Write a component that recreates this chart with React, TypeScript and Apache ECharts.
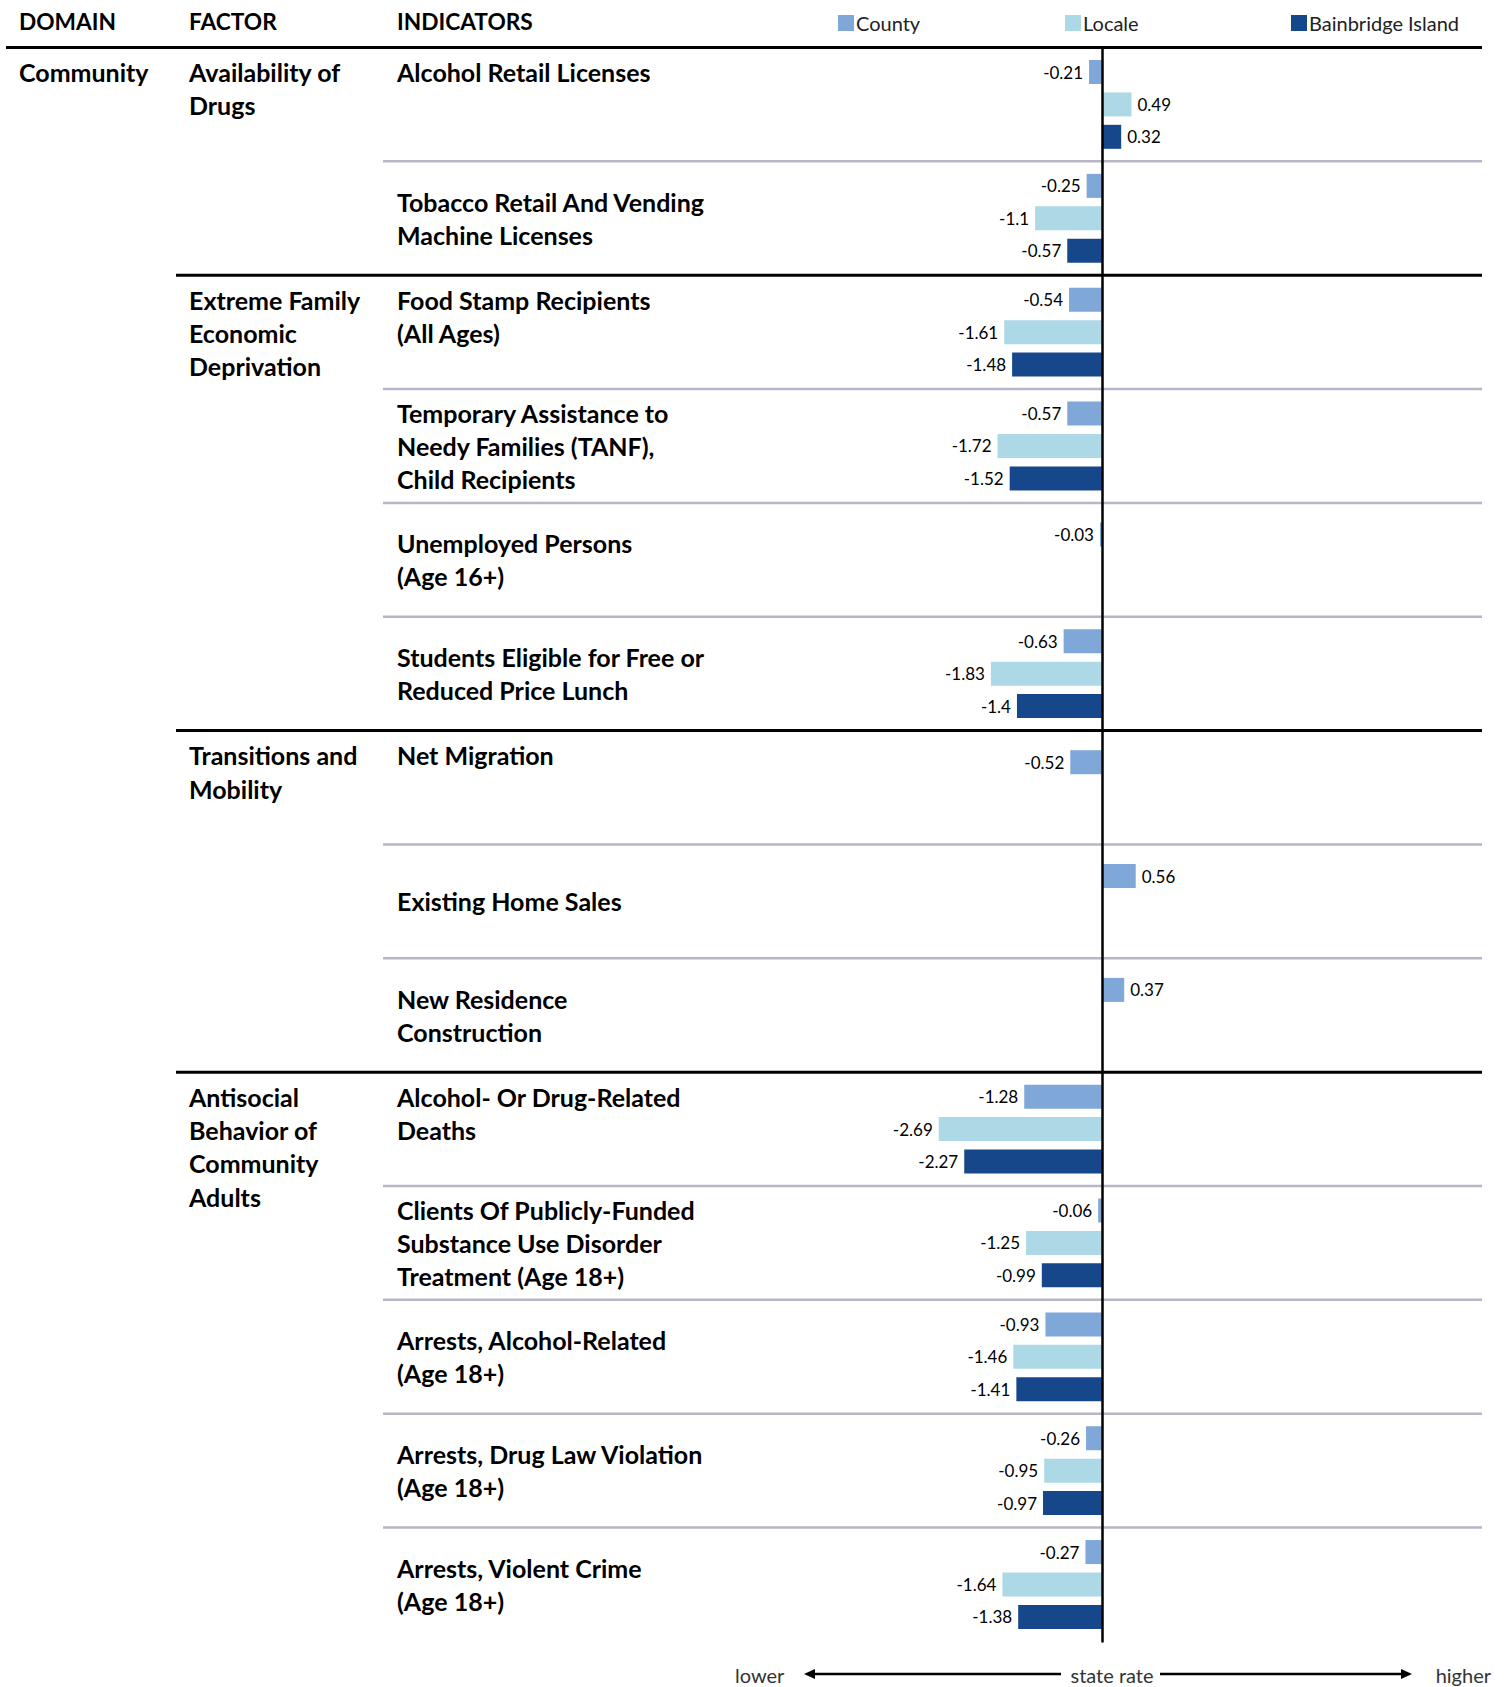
import React, { useEffect, useRef } from "react";
import * as echarts from "echarts";

const headers = ["DOMAIN", "FACTOR", "INDICATORS"];
const domainNames = ["Community"];
const domainStarts = [0];
const factorNames = [
  "Availability of\nDrugs",
  "Extreme Family\nEconomic\nDeprivation",
  "Transitions and\nMobility",
  "Antisocial\nBehavior of\nCommunity\nAdults",
];
const factorStarts = [0, 2, 6, 9];
const indicators = [
  "Alcohol Retail Licenses",
  "Tobacco Retail And Vending\nMachine Licenses",
  "Food Stamp Recipients\n(All Ages)",
  "Temporary Assistance to\nNeedy Families (TANF),\nChild Recipients",
  "Unemployed Persons\n(Age 16+)",
  "Students Eligible for Free or\nReduced Price Lunch",
  "Net Migration",
  "Existing Home Sales",
  "New Residence\nConstruction",
  "Alcohol- Or Drug-Related\nDeaths",
  "Clients Of Publicly-Funded\nSubstance Use Disorder\nTreatment (Age 18+)",
  "Arrests, Alcohol-Related\n(Age 18+)",
  "Arrests, Drug Law Violation\n(Age 18+)",
  "Arrests, Violent Crime\n(Age 18+)",
];
const seriesNames = ["County", "Locale", "Bainbridge Island"];
const countyValues = [-0.21, -0.25, -0.54, -0.57, -0.03, -0.63, -0.52, 0.56, 0.37, -1.28, -0.06, -0.93, -0.26, -0.27];
const localeValues = [0.49, -1.1, -1.61, -1.72, null, -1.83, null, null, null, -2.69, -1.25, -1.46, -0.95, -1.64];
const bainbridgeValues = [0.32, -0.57, -1.48, -1.52, null, -1.4, null, null, null, -2.27, -0.99, -1.41, -0.97, -1.38];
const seriesColors = ["#7fa7d8", "#add8e6", "#16478b"];
const arrowLabels = ["lower", "state rate", "higher"];

const W = 1506;
const H = 1687;
const GRID_TOP = 47.5;
const ROW_H = 113.85;
const ZERO_X = 1101.8;
const UNIT = 60.6;
const X_MIN = -5;
const X_MAX = 6;
const RULE_RIGHT = 1482;
const COL_X = [19, 189, 397];
const FIRST_LINE = 24.7;
const LH = 33.3;
const BOLD_FONT = "Lato";
const FS = 25;
const HEADER_FS = 22.7;

export default function App() {
  const ref = useRef<HTMLDivElement>(null);
  useEffect(() => {
    if (!ref.current) return;
    const chart = echarts.init(ref.current, undefined, { renderer: "svg" });
    const n = indicators.length;
    const gridLeft = ZERO_X + X_MIN * UNIT;
    const gridWidth = (X_MAX - X_MIN) * UNIT;
    const rowTop = (i: number) => GRID_TOP + i * ROW_H;

    const graphics: any[] = [];
    const boldText = (text: string, x: number, yCenter: number, fs: number = FS) => ({
      type: "text",
      x,
      y: yCenter,
      style: {
        text,
        fontFamily: BOLD_FONT,
        fontWeight: "bold",
        fontSize: fs,
        lineHeight: LH,
        fill: "#000",
        align: "left",
        verticalAlign: "middle",
      },
      z: 10,
    });
    const lines = (t: string) => t.split("\n").length;

    headers.forEach((h, i) => graphics.push(boldText(h, COL_X[i], 21.5, HEADER_FS)));
    domainNames.forEach((d, i) => {
      const y = rowTop(domainStarts[i]) + FIRST_LINE + ((lines(d) - 1) * LH) / 2;
      graphics.push(boldText(d, COL_X[0], y));
    });
    factorNames.forEach((f, i) => {
      const y = rowTop(factorStarts[i]) + FIRST_LINE + ((lines(f) - 1) * LH) / 2;
      graphics.push(boldText(f, COL_X[1], y));
    });
    indicators.forEach((t, i) => {
      const isTop = factorStarts.indexOf(i) >= 0;
      const y = isTop
        ? rowTop(i) + FIRST_LINE + ((lines(t) - 1) * LH) / 2
        : rowTop(i) + ROW_H / 2;
      graphics.push(boldText(t, COL_X[2], y));
    });

    // rules
    graphics.push({
      type: "line",
      shape: { x1: 6, y1: GRID_TOP, x2: RULE_RIGHT, y2: GRID_TOP },
      style: { stroke: "#000", lineWidth: 3 },
      z: 5,
    });
    for (let i = 1; i < n; i++) {
      const isFactor = factorStarts.indexOf(i) >= 0;
      graphics.push({
        type: "line",
        shape: { x1: isFactor ? 176 : 383, y1: rowTop(i), x2: RULE_RIGHT, y2: rowTop(i) },
        style: { stroke: isFactor ? "#000" : "#b8b5c6", lineWidth: isFactor ? 3 : 2.5 },
        z: 5,
      });
    }

    // bottom arrows
    const ay = 1674;
    const textStyle = (text: string, x: number, align: string) => ({
      type: "text",
      x,
      y: ay + 1,
      style: { text, fontFamily: "Lato", fontSize: 20, fill: "#333", align, verticalAlign: "middle" },
    });
    graphics.push(textStyle(arrowLabels[0], 735, "left"));
    graphics.push(textStyle(arrowLabels[1], 1112, "center"));
    graphics.push(textStyle(arrowLabels[2], 1491, "right"));
    graphics.push({ type: "line", shape: { x1: 812, y1: ay, x2: 1061, y2: ay }, style: { stroke: "#000", lineWidth: 2.5 } });
    graphics.push({ type: "polygon", shape: { points: [[804, ay], [815, ay - 5], [815, ay + 5]] }, style: { fill: "#000" } });
    graphics.push({ type: "line", shape: { x1: 1160, y1: ay, x2: 1404, y2: ay }, style: { stroke: "#000", lineWidth: 2.5 } });
    graphics.push({ type: "polygon", shape: { points: [[1412, ay], [1401, ay - 5], [1401, ay + 5]] }, style: { fill: "#000" } });

    const valueSets = [countyValues, localeValues, bainbridgeValues];
    const legendLefts = [838, 1065, 1291];
    // rows where only the county value exists are laid out slightly lower in the original
    const countyOnly = countyValues.map((_, i) => localeValues[i] == null && bainbridgeValues[i] == null);

    const labelCfg = {
      show: true,
      fontFamily: "Lato",
      fontSize: 17,
      color: "#000",
      distance: 6,
    };
    const toItem = (v: number | null) =>
      v == null ? null : { value: v, label: { position: v < 0 ? "left" : "right" } };

    const mainSeries = seriesNames.map((s, si) => ({
      name: s,
      type: "bar",
      yAxisIndex: 0,
      barWidth: 24,
      barGap: "35%",
      itemStyle: { color: seriesColors[si] },
      label: labelCfg,
      data: valueSets[si].map((v, i) => (si === 0 && countyOnly[i] ? null : toItem(v))),
    }));
    const countyOnlySeries = {
      name: seriesNames[0],
      type: "bar",
      yAxisIndex: 1,
      barWidth: 24,
      barGap: "111%",
      itemStyle: { color: seriesColors[0] },
      label: labelCfg,
      data: countyValues.map((v, i) => (countyOnly[i] ? toItem(v) : null)),
    };
    const placeholder = {
      name: "_spacer",
      type: "bar",
      yAxisIndex: 1,
      barWidth: 24,
      silent: true,
      data: countyValues.map(() => null),
    };

    chart.setOption({
      animation: false,
      legend: seriesNames.map((s, i) => ({
        data: [s],
        left: legendLefts[i],
        top: 13,
        icon: "rect",
        itemWidth: 16,
        itemHeight: 16,
        itemGap: 0,
        padding: 0,
        textStyle: { fontFamily: "Lato", fontSize: 20, color: "#222", padding: [0, 0, 0, -3] },
      })),
      grid: { left: gridLeft, width: gridWidth, top: GRID_TOP, height: n * ROW_H, containLabel: false },
      xAxis: {
        type: "value",
        min: X_MIN,
        max: X_MAX,
        axisLine: { show: false },
        axisTick: { show: false },
        axisLabel: { show: false },
        splitLine: { show: false },
      },
      yAxis: [
        {
          type: "category",
          inverse: true,
          data: indicators.map((_, i) => String(i)),
          axisLabel: { show: false },
          axisTick: { show: false },
          axisLine: { show: true, onZero: true, lineStyle: { color: "#000", width: 2.5 } },
          splitLine: { show: false },
          z: 20,
        },
        {
          type: "category",
          inverse: true,
          show: false,
          data: indicators.map((_, i) => String(i)),
        },
      ],
      series: [...mainSeries, countyOnlySeries, placeholder],
      graphic: graphics,
    });
    return () => chart.dispose();
  }, []);
  return <div ref={ref} style={{ position: "absolute", left: 0, top: 0, width: W, height: H, background: "#fff" }} />;
}
